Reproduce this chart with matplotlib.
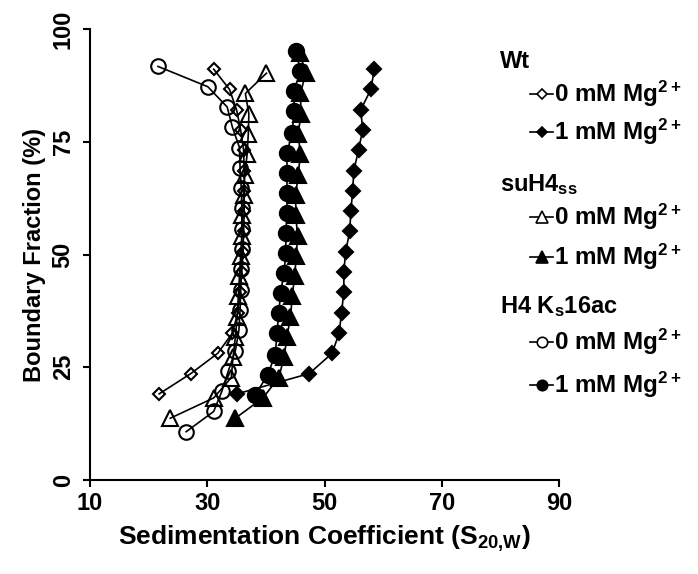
import matplotlib
matplotlib.use('Agg')
import matplotlib.pyplot as plt
from matplotlib.lines import Line2D
import numpy as np

plt.rcParams['font.family'] = ['Liberation Sans', 'DejaVu Sans']
plt.rcParams['font.weight'] = 'bold'
plt.rcParams['axes.labelweight'] = 'bold'
plt.rcParams['mathtext.fontset'] = 'custom'
plt.rcParams['mathtext.rm'] = 'Liberation Sans:bold'
plt.rcParams['mathtext.it'] = 'Liberation Sans:bold:italic'
plt.rcParams['mathtext.bf'] = 'Liberation Sans:bold'

# データ (ピクセルから読み取り)
# Wt
wt0_x = [21.8, 27.2, 31.8, 34.3, 35.2, 35.6, 35.9, 36.1, 36.2, 36.3, 36.3, 36.3, 36.2, 35.7, 35.0, 33.8, 31.1]
wt0_y = [19.1, 23.6, 28.1, 32.6, 37.1, 41.6, 46.1, 50.6, 55.1, 59.6, 64.1, 68.6, 73.1, 77.6, 82.1, 86.6, 91.1]
wt1_x = [35.1, 47.4, 51.3, 52.5, 52.9, 53.3, 53.3, 53.6, 54.3, 54.5, 54.8, 55.0, 55.8, 56.5, 56.2, 57.9, 58.5]
wt1_y = [19.1, 23.6, 28.1, 32.6, 37.1, 41.6, 46.1, 50.6, 55.1, 59.6, 64.1, 68.6, 73.1, 77.6, 82.1, 86.6, 91.1]
# suH4ss
su0_x = [23.7, 31.1, 34.1, 34.4, 34.8, 35.1, 35.3, 35.5, 35.7, 35.9, 36.0, 36.2, 36.4, 36.8, 37.0, 37.1, 36.5, 40.1]
su0_y = [13.7, 18.2, 22.7, 27.2, 31.7, 36.2, 40.7, 45.2, 49.7, 54.2, 58.7, 63.2, 67.7, 72.2, 76.7, 81.2, 85.7, 90.2]
su1_x = [34.8, 39.5, 42.2, 43.1, 43.6, 44.2, 44.5, 44.9, 45.2, 45.4, 45.1, 45.1, 45.5, 45.9, 45.5, 46.0, 45.9, 46.8, 45.8]
su1_y = [13.7, 18.2, 22.7, 27.2, 31.7, 36.2, 40.7, 45.2, 49.7, 54.2, 58.7, 63.2, 67.7, 72.2, 76.7, 81.2, 85.7, 90.2, 94.7]
# H4 Ks16ac
h40_x = [26.4, 31.1, 32.5, 33.6, 34.8, 35.4, 35.6, 35.7, 35.8, 35.9, 35.9, 35.9, 35.8, 35.6, 35.5, 34.3, 33.4, 30.1, 21.6]
h40_y = [10.7, 15.2, 19.7, 24.2, 28.7, 33.2, 37.7, 42.2, 46.7, 51.2, 55.7, 60.2, 64.7, 69.2, 73.7, 78.2, 82.7, 87.2, 91.7]
h41_x = [38.2, 40.3, 41.6, 41.9, 42.2, 42.5, 43.1, 43.4, 43.4, 43.6, 43.6, 43.6, 43.6, 44.5, 44.8, 44.8, 45.9, 45.1]
h41_y = [18.9, 23.3, 27.8, 32.6, 37.0, 41.5, 45.9, 50.4, 54.8, 59.3, 63.7, 68.1, 72.6, 77.0, 81.8, 86.3, 90.7, 95.2]

x_ticks = [10, 30, 50, 70, 90]
y_ticks = [0, 25, 50, 75, 100]
group_names = ['Wt', r'suH4$_{\mathrm{ss}}$', r'H4 K$_{\mathrm{s}}$16ac']
cond_names = [r'0 mM Mg$^{\mathrm{2+}}$', r'1 mM Mg$^{\mathrm{2+}}$']

W, H = 698, 574
fig = plt.figure(figsize=(W / 100, H / 100), dpi=100)
ax = fig.add_axes([90 / W, 1 - 480 / H, (559 - 90) / W, (480 - 29) / H])

# (x, y, marker, filled, size)
series = [
    (wt0_x, wt0_y, 'D', False, 6.5),
    (wt1_x, wt1_y, 'D', True, 7.5),
    (su0_x, su0_y, '^', False, 11.5),
    (su1_x, su1_y, '^', True, 11.5),
    (h40_x, h40_y, 'o', False, 10.5),
    (h41_x, h41_y, 'o', True, 11),
]
for x, y, m, filled, ms in series:
    ax.plot(x, y, color='black', lw=1.2, marker=m, ms=ms,
            mfc='black' if filled else 'none', mec='black', mew=1.5, clip_on=False)

ax.set_xlim(10, 90)
ax.set_ylim(0, 100)
ax.set_xticks(x_ticks)
ax.set_yticks(y_ticks)
for s in ['top', 'right']:
    ax.spines[s].set_visible(False)
for s in ['left', 'bottom']:
    ax.spines[s].set_linewidth(1.5)
ax.tick_params(direction='out', length=5, width=1.5, labelsize=17)
ax.tick_params(axis='y', pad=6)
for lab in ax.get_yticklabels():
    lab.set_rotation(90)
    lab.set_va('center')
ax.set_xlabel(r'Sedimentation Coefficient (S$_{\mathrm{20{,}W}}$)', fontsize=19, labelpad=6)
ax.set_ylabel('Boundary Fraction (%)', fontsize=17, labelpad=4)

# 凡例 (手動で配置)
def px(xp, yp):
    return xp / W, 1 - yp / H

title_y = [62, 185, 307]
entry_y = [[94, 132], [217, 257], [342, 385]]
leg_markers = [('D', 5.5), ('^', 8), ('o', 7.5)]
for g in range(3):
    fig.text(*px(500, title_y[g]), group_names[g], fontsize=17, va='center', ha='left')
    m, ms = leg_markers[g]
    for c in range(2):
        yy = entry_y[g][c]
        x0, y0 = px(530, yy)
        x1, _ = px(553, yy)
        fig.add_artist(Line2D([x0, (x0 + x1) / 2, x1], [y0, y0, y0], transform=fig.transFigure,
                              color='black', lw=1.2, marker=m, ms=ms, markevery=[1],
                              mfc='black' if c == 1 else 'white', mec='black', mew=1.2))
        fig.text(*px(554, yy), cond_names[c], fontsize=17.5, va='center', ha='left')

fig.savefig('out.png', dpi=100)
